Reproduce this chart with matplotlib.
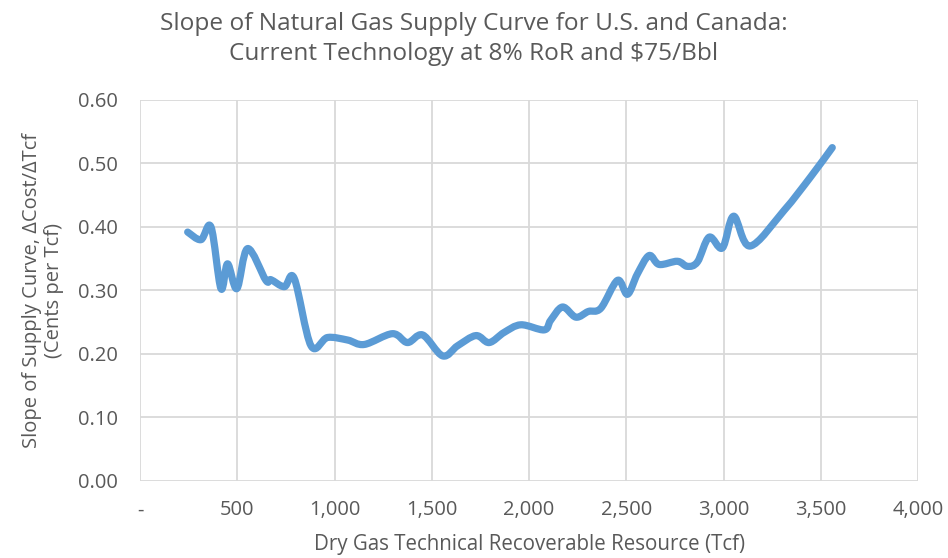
import matplotlib
matplotlib.use("Agg")
import matplotlib.pyplot as plt
from matplotlib.path import Path
from matplotlib.patches import PathPatch

# values
resource_tcf = [245, 313, 365, 416, 450, 498, 553, 647, 673, 742, 793, 879, 964,
                1067, 1153, 1298, 1375, 1453, 1556, 1633, 1727, 1795, 1872, 1958,
                2078, 2111, 2172, 2241, 2305, 2369, 2455, 2506, 2557, 2617, 2669,
                2763, 2814, 2866, 2926, 2994, 3052, 3136, 3311, 3448, 3559]
slope = [0.392, 0.380, 0.400, 0.303, 0.342, 0.303, 0.366, 0.316, 0.317, 0.306,
         0.319, 0.213, 0.226, 0.222, 0.215, 0.232, 0.218, 0.230, 0.197, 0.213,
         0.229, 0.218, 0.234, 0.246, 0.238, 0.253, 0.274, 0.258, 0.267, 0.272,
         0.316, 0.294, 0.326, 0.355, 0.341, 0.346, 0.338, 0.345, 0.384, 0.367,
         0.417, 0.370, 0.426, 0.479, 0.525]

x_ticks = [0, 500, 1000, 1500, 2000, 2500, 3000, 3500, 4000]
x_tick_labels = ["-", "500", "1,000", "1,500", "2,000", "2,500", "3,000", "3,500", "4,000"]
y_ticks = [0.0, 0.1, 0.2, 0.3, 0.4, 0.5, 0.6]

plt.rcParams['font.family'] = ['Open Sans', 'DejaVu Sans']
text_color = "#595959"


def smooth_path(xs, ys):
    # Excel-style smoothed line: cubic Bezier segments through every point
    n = len(xs)
    verts = [(xs[0], ys[0])]
    codes = [Path.MOVETO]
    for i in range(n - 1):
        x0, y0 = (xs[i - 1], ys[i - 1]) if i > 0 else (xs[i], ys[i])
        x3, y3 = (xs[i + 2], ys[i + 2]) if i + 2 < n else (xs[i + 1], ys[i + 1])
        c1 = (xs[i] + (xs[i + 1] - x0) / 6, ys[i] + (ys[i + 1] - y0) / 6)
        c2 = (xs[i + 1] - (x3 - xs[i]) / 6, ys[i + 1] - (y3 - ys[i]) / 6)
        verts += [c1, c2, (xs[i + 1], ys[i + 1])]
        codes += [Path.CURVE4] * 3
    return Path(verts, codes)


fig = plt.figure(figsize=(9.48, 5.58), dpi=100)
ax = fig.add_axes([0.1477, 0.138, 0.8207, 0.6828])

ax.add_patch(PathPatch(smooth_path(resource_tcf, slope), facecolor="none",
                       edgecolor="#5B9BD5", linewidth=5.2, joinstyle="round",
                       capstyle="round", zorder=3))

ax.set_xlim(0, 4000)
ax.set_ylim(0, 0.6)
ax.set_xticks(x_ticks)
ax.set_xticklabels(x_tick_labels)
ax.set_yticks(y_ticks)
ax.set_yticklabels(["%.2f" % v for v in y_ticks])
ax.grid(True, color="#D9D9D9", linewidth=1.3)
for s in ax.spines.values():
    s.set_visible(False)
ax.tick_params(axis="both", length=0, labelsize=14.5, colors=text_color)
ax.tick_params(axis="y", pad=16)
ax.tick_params(axis="x", pad=14)

ax.set_xlabel("Dry Gas Technical Recoverable Resource (Tcf)", fontsize=14.8,
              color=text_color, labelpad=10)
ax.set_ylabel("Slope of Supply Curve, ΔCost/ΔTcf\n(Cents per Tcf)", fontsize=14.5,
              color=text_color, labelpad=10, linespacing=1.1)
fig.text(0.5, 0.978, "Slope of Natural Gas Supply Curve for U.S. and Canada:\n"
         "Current Technology at 8% RoR and $75/Bbl",
         fontsize=17.6, color=text_color, ha="center", va="top", linespacing=1.3)

fig.savefig("out.png", dpi=100)
